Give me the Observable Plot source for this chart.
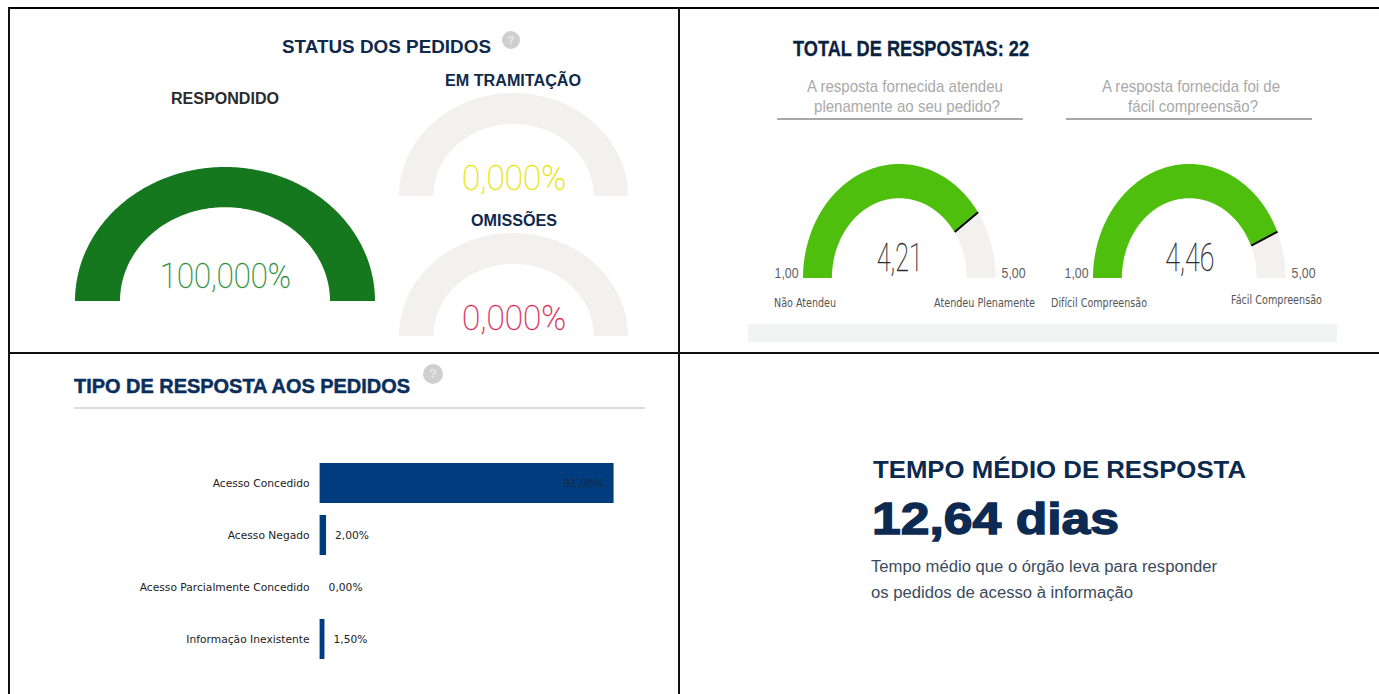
<!DOCTYPE html>
<html><head><meta charset="utf-8">
<script src="https://cdn.jsdelivr.net/npm/d3@7"></script>
<script src="https://cdn.jsdelivr.net/npm/@observablehq/plot@0.6"></script>
<style>
html,body{margin:0;padding:0;background:#fff;overflow:hidden}
#page{position:relative;width:1379px;height:694px;overflow:hidden;background:#fff}
.box{position:absolute}
.t{position:absolute;white-space:nowrap;transform-origin:0 50%;line-height:1}
.p{position:absolute}
.p svg{overflow:visible;background:transparent;display:block}
</style></head><body><div id="page"></div>
<script>
// ---- data ----
const statusLabels = ["RESPONDIDO", "EM TRAMITAÇÃO", "OMISSÕES"];
const statusValues = [100, 0, 0];
const statusText = ["100,000%", "0,000%", "0,000%"];
const satisfactionValues = [4.21, 4.46];
const satisfactionText = ["4,21", "4,46"];
const scaleMin = 1, scaleMax = 5;
const scaleMinText = "1,00", scaleMaxText = "5,00";
const responseTypes = ["Acesso Concedido", "Acesso Negado", "Acesso Parcialmente Concedido", "Informação Inexistente"];
const responseValues = [91, 2, 0, 1.5];
const responseText = ["91,00%", "2,00%", "0,00%", "1,50%"];

const page = document.getElementById("page");
const ARIAL = "'Liberation Sans',Arial,sans-serif";
const NARROW = "'Liberation Sans Narrow','Liberation Sans',sans-serif";
const THIN = "Roboto,sans-serif";
const DEJA = "'DejaVu Sans',sans-serif";

function box(x, y, w, h, c, extra) {
  const d = document.createElement("div");
  d.className = "box";
  d.style.cssText = `left:${x}px;top:${y}px;width:${w}px;height:${h}px;background:${c};${extra||""}`;
  page.appendChild(d);
  return d;
}
// text placed by left/right extent and vertical centre
function txt(s, x0, x1, yc, size, color, family, weight, extra) {
  const d = document.createElement("div");
  d.className = "t";
  d.textContent = s;
  d.style.cssText = `left:${x0}px;font-size:${size}px;color:${color};font-family:${family};font-weight:${weight||400};${extra||""}`;
  page.appendChild(d);
  const r = d.getBoundingClientRect();
  d.style.top = (yc - r.height / 2) + "px";
  d.style.transform = `scaleX(${(x1 - x0) / r.width})`;
  return d;
}
function helpIcon(cx, cy, r) {
  const d = box(cx - r, cy - r, 2 * r, 2 * r, "#cfcfcf", "border-radius:50%;");
  d.textContent = "?";
  d.style.cssText += `color:#e9e9e9;font:bold ${r * 1.25}px/${2 * r}px ${ARIAL};text-align:center;`;
}

// ---- frame ----
box(8, 7, 1371, 2, "#000");
box(8, 352, 1371, 2, "#111");
box(8, 7, 2, 687, "#111");
box(678, 7, 2, 687, "#111");

// ---- gauges ----
function arcPoints(f0, f1, inner) {
  const n = 180, pts = [];
  for (let i = 0; i <= n; i++) {
    const a = Math.PI * (1 - (f0 + (f1 - f0) * i / n));
    pts.push({ix: inner * Math.cos(a), iy: inner * Math.sin(a), ox: Math.cos(a), oy: Math.sin(a)});
  }
  return pts;
}
function gauge({x0, x1, yTop, yBase, frac, color, needle, labelText, labelColor, labelSize, labelWidth, labelDy, ends}) {
  const w = x1 - x0, h = yBase - yTop, inner = 0.7;
  const marks = [Plot.area(arcPoints(0, 1, inner), {x1: "ix", y1: "iy", x2: "ox", y2: "oy", fill: "#f2f1ef"})];
  if (frac > 0) marks.push(Plot.area(arcPoints(0, frac, inner), {x1: "ix", y1: "iy", x2: "ox", y2: "oy", fill: color}));
  if (needle) {
    const p = arcPoints(frac, frac, inner)[0];
    marks.push(Plot.link([p], {x1: "ix", y1: "iy", x2: "ox", y2: "oy", stroke: "#000", strokeWidth: 2}));
  }
  marks.push(Plot.text([labelText], {x: () => 0, y: () => 0, text: d => d, dy: labelDy, fill: labelColor, stroke: labelColor, strokeWidth: 0.35, fontSize: labelSize, fontFamily: THIN, fontWeight: 100, lineAnchor: "middle", textAnchor: "middle", className: "gv"}));
  if (ends) {
    marks.push(Plot.text([ends[0]], {x: () => -1, y: () => 0, text: d => d, dx: -17, dy: -5, fill: "#5f5f5f", fontSize: 15, fontFamily: NARROW, lineAnchor: "middle", textAnchor: "middle", className: "ge"}));
    marks.push(Plot.text([ends[1]], {x: () => 1, y: () => 0, text: d => d, dx: 17.5, dy: -5, fill: "#5f5f5f", fontSize: 15, fontFamily: NARROW, lineAnchor: "middle", textAnchor: "middle", className: "ge"}));
  }
  const svg = Plot.plot({
    width: w, height: h, margin: 0,
    x: {domain: [-1, 1], axis: null},
    y: {domain: [0, 1], axis: null},
    marks
  });
  const fit = (sel, len) => svg.querySelectorAll(sel).forEach(t => {
    t.setAttribute("textLength", len);
    t.setAttribute("lengthAdjust", "spacingAndGlyphs");
  });
  fit(".gv text, text.gv", labelWidth);
  fit(".ge text, text.ge", 24);
  const d = document.createElement("div");
  d.className = "p";
  d.style.cssText = `left:${x0}px;top:${yTop}px;width:${w}px;height:${h}px`;
  d.appendChild(svg);
  page.appendChild(d);
}

// top-left panel
txt("STATUS DOS PEDIDOS", 282, 491, 47, 18.5, "#10294a", ARIAL, 700);
helpIcon(511, 40, 9);
txt(statusLabels[0], 171, 279, 98.5, 16, "#2b2b2b", ARIAL, 700);
txt(statusLabels[1], 445, 581, 81, 16, "#10294a", ARIAL, 700);
txt(statusLabels[2], 471, 557, 221, 16, "#10294a", ARIAL, 700);
const pct = v => v / 100;
gauge({x0: 75, x1: 375, yTop: 167, yBase: 301, frac: pct(statusValues[0]), color: "#15781f",
  labelText: statusText[0], labelColor: "#1f8a30", labelSize: 35, labelWidth: 131, labelDy: -25});
gauge({x0: 398.5, x1: 627.5, yTop: 93, yBase: 196, frac: pct(statusValues[1]), color: "#eeea00",
  labelText: statusText[1], labelColor: "#e8e400", labelSize: 35, labelWidth: 104, labelDy: -18});
gauge({x0: 399, x1: 628, yTop: 233, yBase: 336, frac: pct(statusValues[2]), color: "#d92b5c",
  labelText: statusText[2], labelColor: "#d81f55", labelSize: 35, labelWidth: 104, labelDy: -18});

// top-right panel
txt("TOTAL DE RESPOSTAS: 22", 793, 1029, 49, 22, "#0c2340", ARIAL, 700, "-webkit-text-stroke:.3px #0c2340;");
txt("A resposta fornecida atendeu", 807, 1003, 86, 17, "#a9a9a9", NARROW);
txt("plenamente ao seu pedido?", 814, 1000, 106, 17, "#a9a9a9", NARROW);
txt("A resposta fornecida foi de", 1102, 1280, 86, 17, "#a9a9a9", NARROW);
txt("fácil compreensão?", 1128, 1258, 106, 17, "#a9a9a9", NARROW);
box(777, 118, 246, 1.5, "#a8a8a8");
box(1066, 118, 246, 1.5, "#a8a8a8");
const scaleFrac = v => (v - scaleMin) / (scaleMax - scaleMin);
gauge({x0: 803, x1: 995.6, yTop: 164, yBase: 278, frac: scaleFrac(satisfactionValues[0]), color: "#4fbf0e", needle: true,
  labelText: satisfactionText[0], labelColor: "#2b2b2b", labelSize: 38, labelWidth: 46, labelDy: -20, ends: [scaleMinText, scaleMaxText]});
gauge({x0: 1092.8, x1: 1285.4, yTop: 164, yBase: 278, frac: scaleFrac(satisfactionValues[1]), color: "#4fbf0e", needle: true,
  labelText: satisfactionText[1], labelColor: "#2b2b2b", labelSize: 38, labelWidth: 49, labelDy: -20, ends: [scaleMinText, scaleMaxText]});
txt("Não Atendeu", 774, 836, 303, 12.5, "#555", DEJA);
txt("Atendeu Plenamente", 934, 1035, 303, 12.5, "#555", DEJA);
txt("Difícil Compreensão", 1051, 1147, 303, 12.5, "#555", DEJA);
txt("Fácil Compreensão", 1231, 1322, 300, 12.5, "#555", DEJA);
box(748, 324, 589, 18, "#f2f3f3");

// bottom-left panel
txt("TIPO DE RESPOSTA AOS PEDIDOS", 74, 410, 386, 20, "#0a2f5c", ARIAL, 700, "-webkit-text-stroke:.5px #0a2f5c;");
helpIcon(433, 374, 10);
box(74, 407, 571, 2, "#dcdcdc");
const responses = responseTypes.map((name, i) => ({name, value: responseValues[i], label: responseText[i]}));
{
  const svg = Plot.plot({
    width: 319.6 + 294 + 60, height: 208,
    marginLeft: 319.6, marginRight: 60, marginTop: 0, marginBottom: 0,
    x: {domain: [0, 91], axis: null},
    y: {domain: responseTypes, paddingInner: 0.2308, paddingOuter: 0.1154, label: null, round: false},
    marks: [
      Plot.barX(responses, {x: "value", y: "name", fill: "#003c7e"}),
      Plot.axisY({tickSize: 0, tickPadding: 10.5, fontSize: 10.7, fontFamily: DEJA, color: "#222", label: null}),
      Plot.text(responses.filter(d => d.value > 50), {x: "value", y: "name", text: "label", textAnchor: "end", dx: -10, fontSize: 10.7, fontFamily: DEJA, fill: "#1c2a3a"}),
      Plot.text(responses.filter(d => d.value <= 50), {x: "value", y: "name", text: "label", textAnchor: "start", dx: 8.5, fontSize: 10.7, fontFamily: DEJA, fill: "#222"})
    ]
  });
  const d = document.createElement("div");
  d.className = "p";
  d.style.cssText = "left:0;top:457.3px";
  d.appendChild(svg);
  page.appendChild(d);
}

// bottom-right panel
txt("TEMPO MÉDIO DE RESPOSTA", 873, 1246, 470, 24, "#0c2a4d", ARIAL, 700);
txt("12,64 dias", 872, 1119, 519, 44, "#0c2a52", ARIAL, 700, "-webkit-text-stroke:1.4px #0c2a52;");
txt("Tempo médio que o órgão leva para responder", 871, 1217, 567, 16, "#3b4a5c", ARIAL);
txt("os pedidos de acesso à informação", 871, 1133, 593, 16, "#3b4a5c", ARIAL);
</script></body></html>
